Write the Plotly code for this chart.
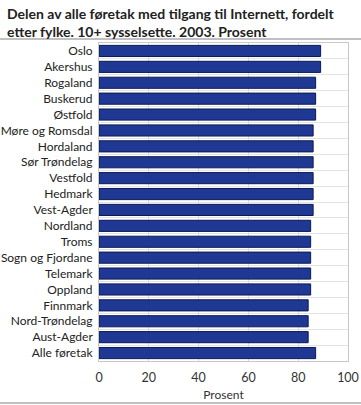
import plotly.graph_objects as go

categories = ["Oslo", "Akershus", "Rogaland", "Buskerud", "Østfold", "Møre og Romsdal",
              "Hordaland", "Sør Trøndelag", "Vestfold", "Hedmark", "Vest-Agder", "Nordland",
              "Troms", "Sogn og Fjordane", "Telemark", "Oppland", "Finnmark", "Nord-Trøndelag",
              "Aust-Agder", "Alle føretak"]
values = [89, 89, 87, 87, 87, 86, 86, 86, 86, 86, 86, 85, 85, 85, 85, 85, 84, 84, 84, 87]
x_ticks = [0, 20, 40, 60, 80, 100]

FONT = "Lato"
L, R, T, B = 99, 13, 43, 44
PW, PH = 361 - L - R, 405 - T - B

fig = go.Figure(go.Bar(
    x=values, y=categories, orientation="h",
    marker=dict(color="#1f3893", line=dict(color="#0b1a52", width=1)),
    width=0.7,
))

fig.update_layout(
    width=361, height=405,
    margin=dict(l=L, r=R, t=T, b=B, autoexpand=False),
    paper_bgcolor="white", plot_bgcolor="white",
    showlegend=False,
    font=dict(family=FONT, size=12, color="#222222"),
    xaxis=dict(
        range=[0, 100], tickvals=x_ticks, ticks="", showgrid=True,
        gridcolor="#d9d9d9", gridwidth=1, showline=True, linecolor="#c8c8c8",
        mirror=True, zeroline=False, tickfont=dict(size=12.5, color="#333333"),
        ticklabelstandoff=5,
        title=dict(text="Prosent", font=dict(size=12, color="#333333"), standoff=6),
        automargin=False,
    ),
    yaxis=dict(
        type="category", autorange="reversed", tickson="boundaries",
        showgrid=True, gridcolor="#e3e3e3", gridwidth=1, ticks="",
        showline=True, linecolor="#c8c8c8", mirror=True,
        tickfont=dict(size=12, color="#222222"), ticksuffix=" ",
        automargin=False,
    ),
    annotations=[
        dict(text="<b>Delen av alle føretak med tilgang til Internett, fordelt<br>etter fylke. 10+ sysselsette. 2003. Prosent</b>",
             xref="paper", yref="paper", x=-(L - 5) / PW, y=1 + (T - 3) / PH,
             xanchor="left", yanchor="top", align="left", showarrow=False,
             font=dict(family=FONT, size=14, color="#222222")),
    ],
    shapes=[
        dict(type="line", xref="paper", yref="paper", x0=-L / PW, x1=1 + R / PW,
             y0=1 + 4 / PH, y1=1 + 4 / PH, line=dict(color="#c0c0c0", width=2)),
        dict(type="line", xref="paper", yref="paper", x0=-L / PW, x1=1 + R / PW,
             y0=-42 / PH, y1=-42 / PH, line=dict(color="#c0c0c0", width=2)),
    ],
)

fig.write_html(
    "out.html",
    config={"displayModeBar": False},
    post_script="document.body.style.margin='0';document.body.style.overflow='hidden';",
)
